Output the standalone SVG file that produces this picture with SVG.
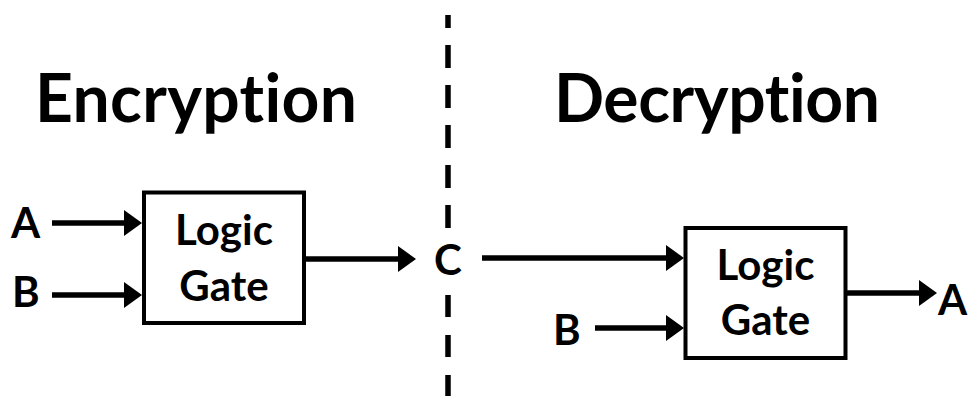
<svg xmlns="http://www.w3.org/2000/svg" width="979" height="396" viewBox="0 0 979 396">
  <style>
    text { font-variant-ligatures: none; font-feature-settings: "liga" 0; }
    .title { font-family: Lato, "Liberation Sans", sans-serif; font-weight: 700; font-size: 66px; fill: #000; }
    .lbl { font-family: Lato, "Liberation Sans", sans-serif; font-weight: 700; font-size: 42px; fill: #000; }
    .gtxt { font-family: Lato, "Liberation Sans", sans-serif; font-weight: 700; font-size: 42px; fill: #000; text-anchor: middle; }
    .box { fill: #fff; stroke: #000; stroke-width: 4; }
    .wire { stroke: #000; stroke-width: 5.5; fill: none; marker-end: url(#head); }
    .divider { stroke: #000; stroke-width: 5.5; fill: none; }
  </style>
  <defs>
    <marker id="head" viewBox="0 0 18 26" refX="10" refY="13" markerWidth="18" markerHeight="26" markerUnits="userSpaceOnUse" orient="auto">
      <path d="M0,0 L18,13 L0,26 Z" fill="#000"/>
    </marker>
  </defs>

  <rect width="979" height="396" fill="#fff"/>

  <!-- dashed separator between the two halves -->
  <g id="separator">
    <line class="divider" x1="448" y1="15" x2="448" y2="228" stroke-dasharray="23 17" stroke-dashoffset="10"/>
    <line class="divider" x1="448" y1="295" x2="448" y2="396" stroke-dasharray="22 18"/>
  </g>

  <!-- section headings -->
  <text id="title-enc" class="title" x="35" y="122" textLength="322" lengthAdjust="spacing">Encryption</text>
  <text id="title-dec" class="title" x="554" y="122" textLength="326" lengthAdjust="spacing">Decryption</text>

  <!-- encryption gate -->
  <g id="gate-enc">
    <rect class="box" x="144" y="192.5" width="160" height="130.5"/>
    <text class="gtxt" x="224" y="245">Logic</text>
    <text class="gtxt" x="224" y="301">Gate</text>
  </g>

  <!-- decryption gate -->
  <g id="gate-dec">
    <rect class="box" x="685.5" y="228" width="160" height="130"/>
    <text class="gtxt" x="765.5" y="280">Logic</text>
    <text class="gtxt" x="765.5" y="335">Gate</text>
  </g>

  <!-- signal labels -->
  <g id="in-a"><text class="lbl" x="11" y="238">A</text></g>
  <g id="in-b"><text class="lbl" x="12" y="307">B</text></g>
  <g id="cipher-c"><text class="lbl" x="434" y="275">C</text></g>
  <g id="key-b"><text class="lbl" x="553" y="345">B</text></g>
  <g id="out-a"><text class="lbl" x="938" y="315">A</text></g>

  <!-- connectors -->
  <g id="connectors">
    <line class="wire" x1="52" y1="223" x2="134" y2="223"/>
    <line class="wire" x1="52" y1="295" x2="134" y2="295"/>
    <line class="wire" x1="306" y1="259" x2="408" y2="259"/>
    <line class="wire" x1="482" y1="258" x2="676" y2="258"/>
    <line class="wire" x1="595" y1="328" x2="676" y2="328"/>
    <line class="wire" x1="847" y1="293" x2="929" y2="293"/>
  </g>
</svg>
